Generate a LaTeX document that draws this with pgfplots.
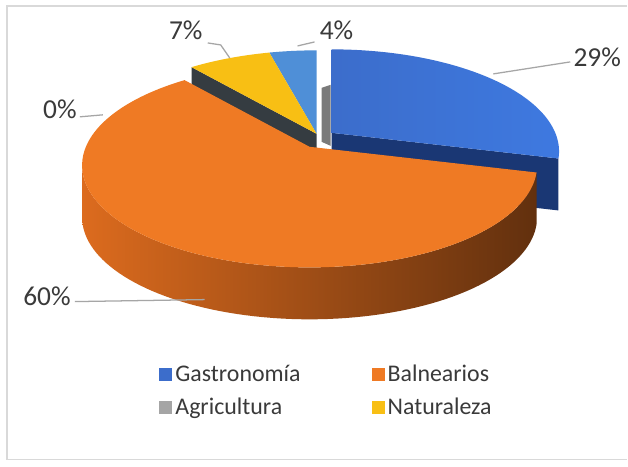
\documentclass[border=0pt]{standalone}
\usepackage{pgfplots}
\pgfplotsset{compat=1.18}
\usepackage{fontspec}
\setmainfont{Carlito}

\definecolor{cBlue}{HTML}{3C6DCB}
\definecolor{cBlueR}{HTML}{3E79E0}
\definecolor{cNavy}{HTML}{1A3774}
\definecolor{cOrange}{HTML}{EF7A24}
\definecolor{cSideL}{HTML}{DC6B1E}
\definecolor{cSideM}{HTML}{A04D16}
\definecolor{cSideR}{HTML}{62300E}
\definecolor{cGray}{HTML}{A5A5A5}
\definecolor{cGrayD}{HTML}{7A7A7A}
\definecolor{cYellow}{HTML}{F8BF14}
\definecolor{cLBlue}{HTML}{4F8FD7}
\definecolor{cSlate}{HTML}{353C41}
\definecolor{cText}{HTML}{3A3A3A}
\definecolor{cLead}{HTML}{A6A6A6}
\definecolor{cFrame}{HTML}{D9D9D9}

% slice values (percent)
\def\vGas{29}
\def\vBal{60}
\def\vAgr{0}
\def\vNat{7}
\def\vOtr{4}

% perspective pie projection (pixel coordinates, y downwards)
\pgfmathdeclarefunction{px}{2}{\pgfmathparse{310+#2+224*cos(#1)/(1+0.182*sin(#1))}}
\pgfmathdeclarefunction{py}{2}{\pgfmathparse{147+#2-224*0.441*sin(#1)/(1+0.182*sin(#1))}}

\pgfmathsetmacro\aA{90}
\pgfmathsetmacro\aB{\aA-3.6*\vGas}
\pgfmathsetmacro\aC{\aB-3.6*\vBal}
\pgfmathsetmacro\aD{\aC-3.6*\vAgr}
\pgfmathsetmacro\aE{\aD-3.6*\vNat}
\pgfmathsetmacro\aF{\aE-3.6*\vOtr}

% corners of visible cut faces
\pgfmathsetmacro\bRx{px(\aB,22)}
\pgfmathsetmacro\bRy{py(\aB,-14)}
\pgfmathsetmacro\bRyy{\bRy+52}
\pgfmathsetmacro\yRx{px(\aD,7)}
\pgfmathsetmacro\yRy{py(\aD,-13)}
\pgfmathsetmacro\yRyy{\yRy+52}

\begin{document}
\begin{tikzpicture}
\begin{axis}[
  scale only axis, width=15.7cm, height=11.675cm,
  xmin=0, xmax=628, ymin=0, ymax=467, y dir=reverse,
  hide axis, clip=false,
  declare function={sphi(\u)=(\u<=1) ? ((\aB)+(-169.5-(\aB))*\u) : (-169.5+((\aB)+169.5)*(\u-1));},
  legend image code/.code={\fill[#1] (0pt,-4.3pt) rectangle (8.6pt,4.3pt);},
  legend cell align=left,
  legend style={at={(axis cs:155,391)}, anchor=west, draw=none, fill=none,
    legend columns=2, font=\fontsize{17}{20}\selectfont, text=cText,
    row sep=5pt, /tikz/column 2/.style={column sep=48pt},
    nodes={inner sep=2.5pt}},
]
% background and frame
\addplot[fill=white, draw=none, forget plot] coordinates {(0,0) (628,0) (628,467) (0,467)} -- cycle;
\addplot[cFrame, line width=1.2pt, forget plot] coordinates {(628,6) (7,6) (7,460) (628,460)};

% light blue slice (4%)
\addplot[fill=cLBlue, draw=none, domain=\aF:\aE, samples=40, variable=\t, forget plot]
  ({px(\t,7)},{py(\t,-13)}) -- (axis cs:317,134) -- cycle;
% Naturaleza: cut face and top
\addplot[fill=cSlate, draw=none, forget plot] coordinates {(317,134) (\yRx,\yRy) (\yRx,\yRyy) (317,186)} -- cycle;
\addplot[fill=cYellow, draw=none, domain=\aE:\aD, samples=40, variable=\t, forget plot]
  ({px(\t,7)},{py(\t,-13)}) -- (axis cs:317,134) -- cycle;
% Agricultura (0%) face
\addplot[fill=cGrayD, draw=none, forget plot] coordinates {(322,88) (331,85) (331,146) (322,142)} -- cycle;
% Gastronomia: cut face, top
\addplot[fill=cNavy, draw=none, forget plot] coordinates {(332,133) (\bRx,\bRy) (\bRx,\bRyy) (332,185)} -- cycle;
\addplot[left color=cBlue, right color=cBlueR, draw=none, domain=\aB:\aA, samples=80, variable=\t, forget plot]
  ({px(\t,22)},{py(\t,-14)}) -- (axis cs:332,133) -- cycle;
% Balnearios: side and top
\addplot[left color=cSideL, middle color=cSideM, right color=cSideR, draw=none, domain=0:2, samples=161, variable=\u, forget plot]
  ({px(sphi(\u),0)},{py(sphi(\u),0)+((\u>1.001)?52:0)}) -- cycle;
\addplot[fill=cOrange, draw=none, domain=\aC:\aB, samples=120, variable=\t, forget plot]
  ({px(\t,0)},{py(\t,0)}) -- (axis cs:310,147) -- cycle;

% leader lines
\addplot[cLead, line width=0.9pt, forget plot] coordinates {(494,74) (571,62)};
\addplot[cLead, line width=0.9pt, forget plot] coordinates {(208,43) (221,45) (230,58)};
\addplot[cLead, line width=0.9pt, forget plot] coordinates {(298,46) (315,42)};
\addplot[cLead, line width=0.9pt, forget plot] coordinates {(80,117) (103,115)};
\addplot[cLead, line width=0.9pt, forget plot] coordinates {(75,302) (205,300)};

% data labels
\node[text=cText, font=\fontsize{19.5}{23}\selectfont, anchor=west, inner sep=0pt] at (axis cs:574,57) {\vGas\%};
\node[text=cText, font=\fontsize{19.5}{23}\selectfont, inner sep=0pt] at (axis cs:337,30) {\vOtr\%};
\node[text=cText, font=\fontsize{19.5}{23}\selectfont, inner sep=0pt] at (axis cs:186,30) {\vNat\%};
\node[text=cText, font=\fontsize{19.5}{23}\selectfont, inner sep=0pt] at (axis cs:60,109) {\vAgr\%};
\node[text=cText, font=\fontsize{19.5}{23}\selectfont, inner sep=0pt] at (axis cs:47,297) {\vBal\%};

\addlegendimage{cBlue}
\addlegendentry{Gastronomía}
\addlegendimage{cOrange}
\addlegendentry{Balnearios}
\addlegendimage{cGray}
\addlegendentry{Agricultura}
\addlegendimage{cYellow}
\addlegendentry{Naturaleza}
\end{axis}
\end{tikzpicture}
\end{document}
